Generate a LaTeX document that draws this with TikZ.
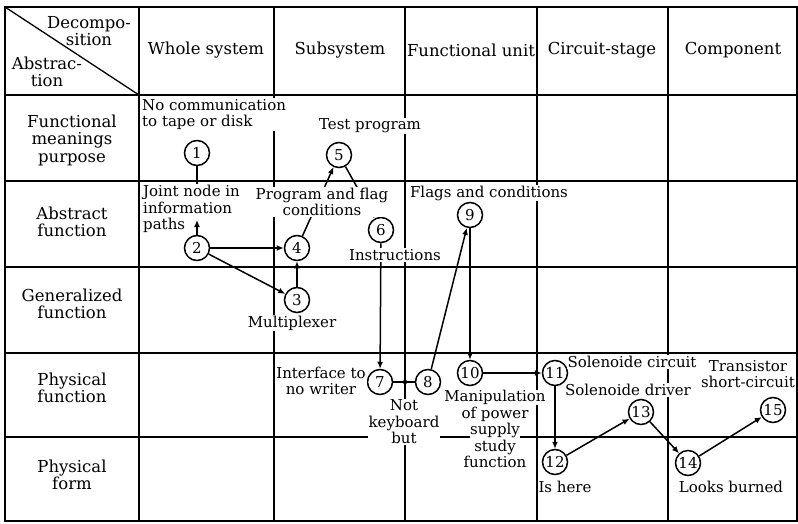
\documentclass[tikz,border=0pt]{standalone}
\usepackage{fontspec}
\setmainfont{DejaVu Serif}
\usetikzlibrary{arrows.meta}
\setlength{\fboxsep}{0.5pt}
\newcommand{\cutline}[1]{\colorbox{white}{#1}}

\begin{document}
\begin{tikzpicture}[x=1pt, y=-1pt,
    every node/.style={font=\fontsize{15}{16.5}\selectfont},
    head/.style={font=\fontsize{16.5}{17.5}\selectfont, align=center},
    grid/.style={line width=1.6pt},
    num/.style={circle, draw, line width=1.5pt, fill=white, minimum size=25pt, inner sep=0pt},
    lbl/.style={fill=white, inner sep=1pt, align=center},
    flow/.style={line width=1.5pt, -{Latex[length=7pt,width=6pt]}},
    link/.style={line width=1.5pt}]
  \useasboundingbox (0,0) rectangle (798,523);
  % table
  \draw[grid] (5,7) rectangle (797,521);
  \foreach \x in {139,274,405,537,668}
    \draw[grid] (\x,7) -- (\x,521);
  \foreach \y in {95,181,267,353,437}
    \draw[grid] (5,\y) -- (797,\y);
  \draw[line width=1.3pt] (5,7) -- (139,95);
  % corner cell
  \node[head] (decomp) at (89,31) {Decompo-\\sition};
  \node[head] (abstr) at (47,72) {Abstrac-\\tion};
  % column heads
  \foreach \x/\lab in {206/Whole system, 340/Subsystem, 471/Functional unit,
                       602/Circuit-stage, 733/Component}
    \node[head] (head-\x) at (\x,50) {\lab};
  % row heads
  \foreach \y/\lab in {140/{Functional\\meanings\\purpose}, 222/{Abstract\\function},
                       304/{Generalized\\function}, 388/{Physical\\function},
                       475/{Physical\\form}}
    \node[head] (row-\y) at (72,\y) {\lab};
  % steps
  \node[num] (n1)  at (197,153) {1};
  \node[num] (n2)  at (197,248) {2};
  \node[num] (n3)  at (297,300) {3};
  \node[num] (n4)  at (297,248) {4};
  \node[num] (n5)  at (339,155) {5};
  \node[num] (n6)  at (381,230) {6};
  \node[num] (n7)  at (380,382) {7};
  \node[num] (n8)  at (428,382) {8};
  \node[num] (n9)  at (470,215) {9};
  \node[num] (n10) at (470,373) {10};
  \node[num] (n11) at (555,373) {11};
  \node[num] (n12) at (555,462) {12};
  \node[num] (n13) at (641,412) {13};
  \node[num] (n14) at (688,463) {14};
  \node[num] (n15) at (773,410) {15};
  % search path
  \draw[flow] (n2) -- (n4);
  \draw[flow] (n2) -- (n3);
  \draw[flow] (n3) -- (n4);
  \draw[flow] (n4) -- (n5);
  \draw[flow] (n5) -- (n6);
  \draw[flow] (n6) -- (n7);
  \draw[link] (n7) -- (n8);
  \fill (405,382) circle (2.2pt);
  \draw[flow] (n8) -- (n9);
  \draw[flow] (n9) -- (n10);
  \draw[flow] (n10) -- (n11);
  \draw[flow] (n11) -- (n12);
  \draw[flow] (n12) -- (n13);
  \draw[flow] (n13) -- (n14);
  \draw[flow] (n14) -- (n15);
  % notes
  \node[lbl, align=left, anchor=north west] (nocomm) at (141,98) {No communication\\to tape or disk};
  \node[lbl] (testprog) at (370,126) {Test program};
  \node[lbl, align=left, anchor=north west] (joint) at (142,184) {Joint node in\\information\\paths};
  \node[lbl] (progflag) at (322,202) {Program and flag\\conditions};
  \node[lbl] (instr) at (395,255) {Instructions};
  \node[lbl] (mux) at (292,323) {Multiplexer};
  \node[lbl] (flags) at (489,193) {Flags and conditions};
  \node[lbl] (iface) at (321,381) {Interface to\\no writer};
  \node[lbl] (notkb) at (404,422) {Not\\keyboard\\but};
  \node[align=center, inner sep=0pt] (manip) at (495,429)
    {\cutline{Manipulation}\\\cutline{of power}\\\cutline{supply}\\\cutline{study}\\\cutline{function}};
  \node[lbl] (solcirc) at (632,362) {Solenoide circuit};
  \node[lbl] (soldrv) at (628,390) {Solenoide driver};
  \node[lbl] (trans) at (748,374) {Transistor\\short-circuit};
  \node[lbl] (ishere) at (565,487) {Is here};
  \node[lbl] (burned) at (731,487) {Looks burned};
  \coordinate (jointtip) at (197,220);
  \draw[link] (n1) -- (n1 |- joint.north);
  \draw[flow] (n2) -- (jointtip);
\end{tikzpicture}
\end{document}
